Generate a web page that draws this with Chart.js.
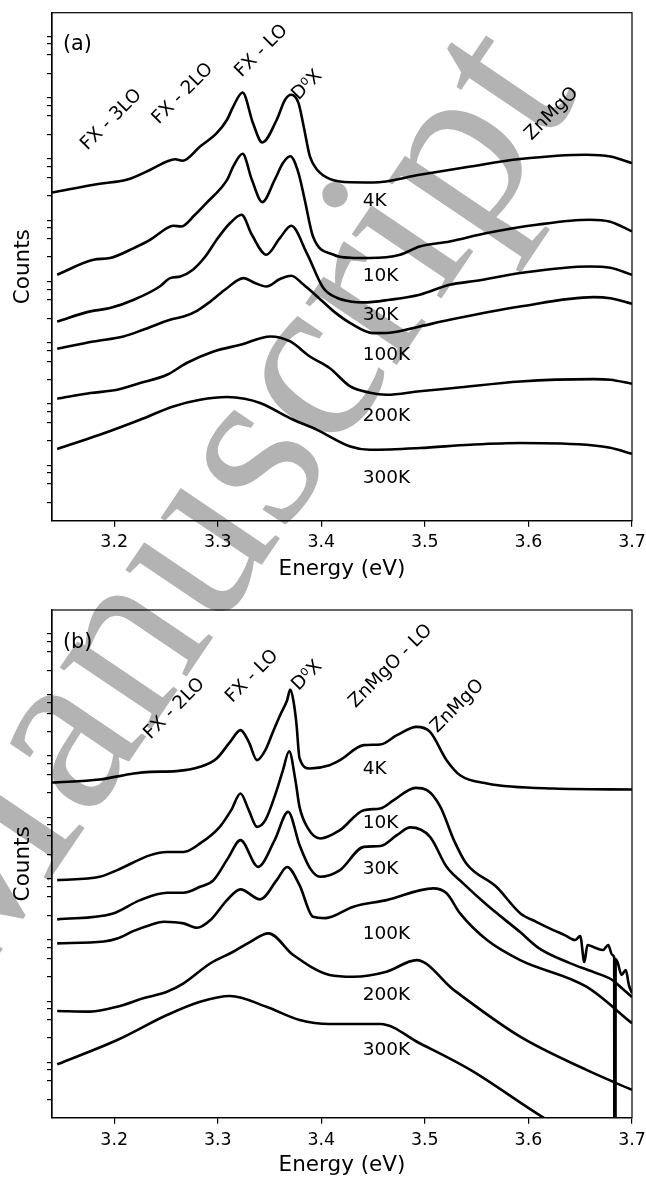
<!DOCTYPE html>
<html><head><meta charset="utf-8">
<script src="https://cdn.jsdelivr.net/npm/chart.js@4.4.1/dist/chart.umd.min.js"></script>
<style>
html,body{margin:0;padding:0;background:#fff;}
#wrap{position:relative;width:646px;height:1177px;overflow:hidden;background:#fff;}
canvas{position:absolute;left:0;}
</style></head><body>
<div id="wrap">
<canvas id="wm" width="646" height="1177" style="top:0"></canvas>
<canvas id="ca" width="646" height="590" style="top:0"></canvas>
<canvas id="cb" width="646" height="587" style="top:590px"></canvas>
</div>
<script>
// ---------- axis ticks ----------
const xTickValues = [3.2, 3.3, 3.4, 3.5, 3.6, 3.7];
const yTickValues = [1,2,3,4, 10,20,30,40, 100,200,300,400, 1e3,2e3,3e3,4e3, 1e4,2e4,3e4,4e4, 1e5,2e5,3e5,4e5, 1e6,2e6,3e6,4e6, 1e7,2e7,3e7,4e7];
const temperatures = ['4K', '10K', '30K', '100K', '200K', '300K'];

// ---------- panel (a) ----------
const energyA4K = [3.140,3.186,3.212,3.235,3.251,3.259,3.266,3.283,3.299,3.309,3.315,3.324,3.334,3.343,3.357,3.365,3.371,3.378,3.383,3.389,3.396,3.408,3.428,3.450,3.495,3.544,3.592,3.656,3.679,3.700];
const countsA4K = [1.13e5,1.57e5,1.82e5,2.66e5,3.63e5,3.94e5,3.72e5,6.37e5,1.05e6,1.74e6,2.86e6,4.84e6,1.54e6,7.41e5,1.74e6,3.68e6,4.45e6,3.25e6,1.35e6,4.38e5,2.66e5,1.89e5,1.66e5,1.65e5,2.20e5,3.01e5,3.97e5,4.67e5,4.38e5,3.42e5];

const energyA10K = [3.145,3.180,3.196,3.219,3.235,3.251,3.257,3.265,3.278,3.289,3.309,3.315,3.324,3.333,3.343,3.355,3.363,3.370,3.378,3.384,3.392,3.412,3.428,3.447,3.476,3.495,3.524,3.560,3.608,3.659,3.679,3.700];
const countsA10K = [5.14e3,9.04e3,9.64e3,1.40e4,1.92e4,2.97e4,3.24e4,3.16e4,4.90e4,7.60e4,1.82e5,3.01e5,4.84e5,1.82e5,7.89e4,1.82e5,3.42e5,4.41e5,2.35e5,8.61e4,2.17e4,1.09e4,9.75e3,9.64e3,1.09e4,1.49e4,1.80e4,2.47e4,3.37e4,4.06e4,3.77e4,2.62e4];

const energyA30K = [3.145,3.177,3.196,3.219,3.244,3.254,3.264,3.276,3.288,3.299,3.312,3.323,3.333,3.347,3.360,3.371,3.386,3.402,3.415,3.428,3.441,3.466,3.495,3.524,3.550,3.592,3.659,3.679,3.700];
const countsA30K = [889,1.30e3,1.47e3,2.01e3,3.31e3,4.54e3,4.83e3,6.21e3,1.02e4,1.92e4,3.59e4,4.90e4,2.31e4,1.09e4,2.04e4,3.24e4,1.16e4,3.12e3,2.17e3,1.89e3,1.82e3,2.01e3,2.43e3,3.53e3,4.10e3,5.48e3,7.03e3,6.69e3,5.14e3];

const energyA100K = [3.145,3.180,3.209,3.228,3.254,3.267,3.280,3.293,3.307,3.325,3.336,3.347,3.360,3.371,3.383,3.396,3.412,3.428,3.450,3.466,3.495,3.524,3.592,3.663,3.679,3.700];
const countsA100K = [319,420,507,652,948,1.07e3,1.33e3,1.89e3,2.93e3,4.54e3,3.77e3,3.31e3,4.38e3,4.96e3,3.53e3,2.28e3,1.30e3,838,575,582,738,948,1.56e3,2.22e3,2.13e3,1.73e3];

const energyA200K = [3.145,3.177,3.203,3.225,3.251,3.270,3.296,3.322,3.351,3.370,3.389,3.408,3.428,3.447,3.463,3.495,3.528,3.592,3.663,3.679,3.700];
const countsA200K = [48.8,60.4,68.4,88.1,120,187,288,371,507,420,239,155,77.5,61.1,56.7,64.7,72.9,93.5,102,99.6,85.7];

const energyA300K = [3.145,3.186,3.225,3.257,3.283,3.309,3.326,3.341,3.373,3.396,3.428,3.447,3.495,3.544,3.592,3.663,3.679,3.700];
const countsA300K = [7.38,12.6,22.2,36.6,47.0,52.0,48.8,41.5,22.2,15.2,8.13,7.18,7.66,8.67,9.25,8.45,7.74,6.18];

// ---------- panel (b) ----------
const energyB4K = [3.140,3.186,3.219,3.235,3.260,3.283,3.299,3.312,3.322,3.330,3.338,3.346,3.354,3.361,3.367,3.370,3.373,3.376,3.379,3.389,3.408,3.418,3.441,3.457,3.473,3.492,3.505,3.521,3.534,3.560,3.624,3.700];
const countsB4K = [1.48e5,1.66e5,2.08e5,2.21e5,2.27e5,2.67e5,3.66e5,6.82e5,1.06e6,6.82e5,3.43e5,4.99e5,1.06e6,1.98e6,3.27e6,4.88e6,3.27e6,1.36e6,3.70e5,2.51e5,2.84e5,3.43e5,6.03e5,6.18e5,8.77e5,1.20e6,9.93e5,3.43e5,1.95e5,1.43e5,1.18e5,1.14e5];

const energyB10K = [3.145,3.186,3.203,3.235,3.251,3.267,3.283,3.302,3.313,3.322,3.330,3.338,3.346,3.357,3.363,3.369,3.375,3.379,3.387,3.399,3.418,3.441,3.457,3.470,3.491,3.502,3.515,3.528,3.540,3.569,3.592,3.608,3.624,3.635,3.645,3.650,3.654,3.657,3.665,3.672,3.677,3.681,3.6828,3.6830,3.6840,3.6842,3.686,3.690,3.694,3.697,3.700];
const countsB10K = [3.78e3,4.28e3,5.51e3,9.67e3,1.09e4,1.09e4,1.50e4,2.80e4,5.24e4,9.82e4,5.24e4,2.80e4,3.60e4,1.11e5,2.36e5,4.81e5,1.62e5,5.93e4,2.67e4,1.81e4,2.47e4,5.24e4,5.59e4,7.64e4,1.21e5,1.11e5,5.93e4,1.70e4,7.08e3,2.94e3,1.09e3,780,578,479,397,461,174,330,294,273,330,226,205,0.01,0.01,195,174,107,129,73,54.2];

const energyB30K = [3.145,3.199,3.225,3.251,3.267,3.283,3.296,3.310,3.322,3.339,3.355,3.368,3.379,3.389,3.399,3.418,3.441,3.457,3.473,3.486,3.505,3.521,3.537,3.560,3.592,3.610,3.640,3.663,3.681,3.690,3.700];
const countsB30K = [863,1.08e3,1.78e3,2.35e3,2.35e3,2.94e3,3.78e3,8.63e3,1.70e4,6.22e3,1.70e4,4.92e4,1.41e4,5.93e3,4.28e3,5.51e3,1.32e4,1.36e4,2.05e4,2.74e4,1.92e4,6.22e3,3.34e3,1.48e3,536,294,167,119,88.5,65.5,46.7];

const energyB100K = [3.145,3.190,3.203,3.219,3.235,3.248,3.267,3.280,3.293,3.309,3.322,3.341,3.357,3.367,3.379,3.392,3.404,3.431,3.463,3.508,3.521,3.534,3.560,3.592,3.656,3.700];
const countsB100K = [351,375,420,560,700,789,743,630,841,1.78e3,2.67e3,1.83e3,3.78e3,6.17e3,3.13e3,953,907,1.39e3,1.78e3,2.77e3,2.30e3,1.08e3,397,187,68.7,17.4];

const energyB200K = [3.145,3.177,3.203,3.228,3.251,3.267,3.293,3.315,3.331,3.349,3.373,3.408,3.431,3.463,3.492,3.528,3.592,3.656,3.700];
const countsB200K = [27.6,26.9,32.4,44.4,56.9,78.0,166,256,368,511,226,107,100,121,187,60.7,10.5,3.01,1.42];

const energyB300K = [3.145,3.203,3.251,3.283,3.312,3.347,3.379,3.408,3.457,3.495,3.544,3.613,3.669,3.700];
const countsB300K = [3.72,9.28,23.7,39.1,48.4,32.4,19.7,16.9,16.9,8.20,3.01,0.52,0.149,0.0703];

// ---------- annotations ----------
const peakLabelsA = ['FX - 3LO', 'FX - 2LO', 'FX - LO', 'D\u2070X', 'ZnMgO'];
const peakLabelsB = ['FX - 2LO', 'FX - LO', 'D\u2070X', 'ZnMgO - LO', 'ZnMgO'];

const layoutA = {
  panel: '(a)', padTop: 12.7, xHeight: 69.3, tickPad: 5, titlePad: 10,
  tempX: 3.44, tempY: [8.07e4, 4.83e3, 1.145e3, 255, 25.1, 2.48],
  peakX: [3.174, 3.243, 3.323, 3.378, 3.603], peakY: [5.42e5, 1.44e6, 8.41e6, 3.55e6, 7.89e5],
  peaks: peakLabelsA
};
const layoutB = {
  panel: '(b)', padTop: 20, xHeight: 59.3, tickPad: 6, titlePad: 0.4,
  tempX: 3.44, tempY: [2.44e5, 3.18e4, 5.71e3, 503, 50.3, 6.37],
  peakX: [3.235, 3.314, 3.378, 3.433, 3.512], peakY: [7.40e5, 2.92e6, 4.58e6, 2.42e6, 9.46e5],
  peaks: peakLabelsB
};

const seriesA = [[energyA4K,countsA4K],[energyA10K,countsA10K],[energyA30K,countsA30K],[energyA100K,countsA100K],[energyA200K,countsA200K],[energyA300K,countsA300K]];
const seriesB = [[energyB4K,countsB4K],[energyB10K,countsB10K],[energyB30K,countsB30K],[energyB100K,countsB100K],[energyB200K,countsB200K],[energyB300K,countsB300K]];

// ---------- watermark (background) ----------
(function(){
  const c = document.getElementById('wm').getContext('2d');
  c.save();
  c.fillStyle = '#b3b3b3';
  c.font = '240px "Liberation Serif"';
  c.translate(-31, 999);
  c.rotate(-56 * Math.PI / 180);
  const pre = c.measureText('Accepted ').width;
  c.fillText('Accepted Manuscript', -pre, 0);
  c.restore();
})();

const FONT = 'DejaVu Sans';

const decorPlugin = {
  id: 'decor',
  afterDraw(chart, args, opts) {
    const ctx = chart.ctx, a = chart.chartArea, L = opts.layout;
    const xs = chart.scales.x, ys = chart.scales.y;
    ctx.save();
    ctx.strokeStyle = '#000'; ctx.lineWidth = 1.2;
    ctx.strokeRect(a.left, a.top, a.right - a.left, a.bottom - a.top);
    ctx.fillStyle = '#000';
    ctx.font = '20.8px "' + FONT + '"';
    ctx.textAlign = 'left'; ctx.textBaseline = 'alphabetic';
    ctx.fillText(L.panel, a.left + 11, a.top + 37.6);
    ctx.font = '18.5px "' + FONT + '"';
    ctx.textBaseline = 'middle';
    temperatures.forEach((t, i) => {
      ctx.fillText(t, xs.getPixelForValue(L.tempX), ys.getPixelForValue(L.tempY[i]));
    });
    ctx.textBaseline = 'alphabetic';
    L.peaks.forEach((t, i) => {
      ctx.save();
      ctx.translate(xs.getPixelForValue(L.peakX[i]), ys.getPixelForValue(L.peakY[i]));
      ctx.rotate(-Math.PI / 4);
      ctx.fillText(t, 0, 0);
      ctx.restore();
    });
    ctx.restore();
  }
};

function makeChart(id, series, L) {
  return new Chart(document.getElementById(id), {
    type: 'line',
    data: {
      datasets: series.map((s, k) => ({
        label: temperatures[k],
        data: s[0].map((e, i) => ({ x: e, y: s[1][i] })),
        borderColor: '#000', borderWidth: 2.6, pointRadius: 0,
        cubicInterpolationMode: 'monotone', fill: false
      }))
    },
    options: {
      responsive: false, animation: false, devicePixelRatio: 1,
      layout: { padding: { top: L.padTop, right: 14, left: 0, bottom: 0 } },
      plugins: { legend: { display: false }, tooltip: { enabled: false }, decor: { layout: L } },
      scales: {
        x: {
          type: 'linear', min: 3.14, max: 3.70,
          afterBuildTicks: s => { s.ticks = xTickValues.map(v => ({ value: v })); },
          afterFit: s => { s.height = L.xHeight; s.paddingLeft = 0; s.paddingRight = 0; },
          ticks: { callback: v => v.toFixed(1), font: { family: FONT, size: 17.4 }, color: '#000', padding: L.tickPad, maxRotation: 0, autoSkip: false },
          grid: { drawOnChartArea: false, drawTicks: true, tickLength: 6, color: '#000', lineWidth: 1.2 },
          border: { display: true, color: '#000', width: 1.2 },
          title: { display: true, text: 'Energy (eV)', color: '#000', font: { family: FONT, size: 21.5, lineHeight: 1 }, padding: { top: 0, bottom: L.titlePad } }
        },
        y: {
          type: 'logarithmic', min: 0.5, max: 9.7e7,
          afterBuildTicks: s => { s.ticks = yTickValues.map(v => ({ value: v })); },
          afterFit: s => { s.width = 52; s.paddingTop = 0; s.paddingBottom = 0; },
          ticks: { display: false },
          grid: { drawOnChartArea: false, drawTicks: true, tickLength: 5, color: '#000', lineWidth: 1.2 },
          border: { display: true, color: '#000', width: 1.2 },
          title: { display: true, text: 'Counts', color: '#000', font: { family: FONT, size: 21.5, lineHeight: 1 }, padding: { top: 13, bottom: 0 } }
        }
      }
    },
    plugins: [decorPlugin]
  });
}

makeChart('ca', seriesA, layoutA);
makeChart('cb', seriesB, layoutB);
</script>
</body></html>
